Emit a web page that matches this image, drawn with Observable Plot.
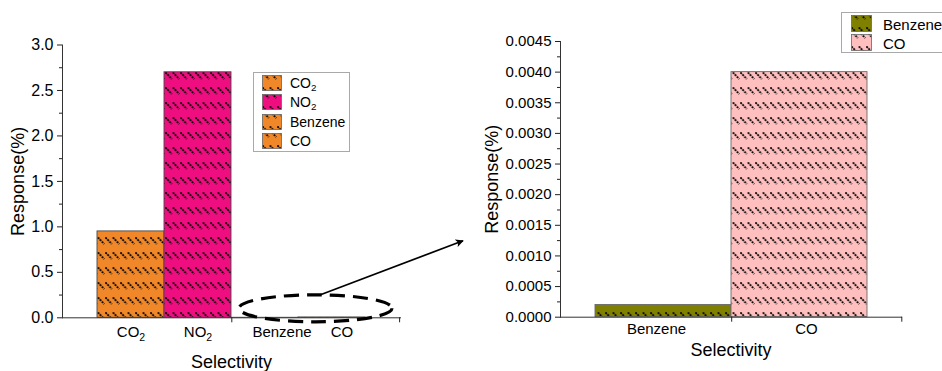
<!DOCTYPE html>
<html><head><meta charset="utf-8">
<script src="https://cdn.jsdelivr.net/npm/d3@7"></script>
<script src="https://cdn.jsdelivr.net/npm/@observablehq/plot@0.6"></script>
<style>
body{margin:0;background:#fff;font-family:"Liberation Sans",Arial,Helvetica,sans-serif;}
#wrap{position:relative;width:942px;height:371px;overflow:hidden;background:#fff;}
.panel{position:absolute;top:0;}
.legend{position:absolute;border:1px solid #a9a9a9;background:#fff;box-sizing:border-box;}
.legend .row{position:absolute;left:0;right:0;}
.legend .sw{position:absolute;}
.legend .lab{position:absolute;white-space:nowrap;color:#000;}
.legend sub{font-size:0.7em;vertical-align:-0.3em;line-height:0;}
#overlay{position:absolute;left:0;top:0;pointer-events:none;}
</style></head><body>
<div id="wrap"></div>
<script>
// ---------- data ----------
const leftCategories = ["CO2", "NO2", "Benzene", "CO"];
const leftValues = [0.95, 2.7, 0.0002, 0.004];
const leftColors = ["#F0882A", "#EE0E80", "#F0882A", "#F0882A"];
const leftTicks = [0, 0.5, 1.0, 1.5, 2.0, 2.5, 3.0];
const leftLegend = ["CO2", "NO2", "Benzene", "CO"];
const leftLegendColors = ["#F0882A", "#EE0E80", "#F0882A", "#F0882A"];

const rightCategories = ["Benzene", "CO"];
const rightValues = [0.0002, 0.004];
const rightColors = ["#7F7F00", "#FFBFBF"];
const rightTicks = [0, 0.0005, 0.0010, 0.0015, 0.0020, 0.0025, 0.0030, 0.0035, 0.0040, 0.0045];

const xTitle = "Selectivity";
const yTitle = "Response(%)";

// ---------- setup ----------
const FONT = '"Liberation Sans", Arial, Helvetica, sans-serif';
const wrap = document.getElementById("wrap");
const patId = c => "pat-" + c.replace("#", "");

// hatch patterns (short dotted "\" strokes in rows)
(function () {
  const svg = d3.select("body").append("svg").attr("width", 0).attr("height", 0)
    .style("position", "absolute");
  const defs = svg.append("defs");
  const colors = Array.from(new Set([...leftColors, ...rightColors, ...leftLegendColors]));
  for (const c of colors) {
    const p = defs.append("pattern").attr("id", patId(c))
      .attr("patternUnits", "userSpaceOnUse").attr("width", 7.5).attr("height", 15)
      .attr("patternTransform", "translate(0,12)");
    p.append("rect").attr("width", 7.5).attr("height", 15).attr("fill", c);
    p.append("line").attr("x1", 0.4).attr("y1", 0.4).attr("x2", 6.8).attr("y2", 7.0)
      .attr("stroke", "#000").attr("stroke-width", 1.8).attr("stroke-dasharray", "1.9 1.0");
  }
})();

const minorOf = ticks => d3.pairs(ticks).map(([a, b]) => (a + b) / 2);

function subscripts(svg) {
  d3.select(svg).selectAll("text").each(function () {
    const t = this.textContent;
    const m = /^(CO|NO)2$/.exec(t);
    if (m && this.childElementCount === 0) {
      this.textContent = m[1];
      d3.select(this).append("tspan").attr("dy", "0.3em").attr("font-size", "0.7em").text("2");
    }
  });
}

// ---------- left panel ----------
const L = {width: 470, height: 371, ml: 62, mr: 70, mt: 44.5, mb: 53.7, po: 0.5};
const Lstep = (L.width - L.ml - L.mr) / (leftCategories.length + 2 * L.po);
const leftData = leftCategories.map((c, i) => ({cat: c, value: leftValues[i], fill: `url(#${patId(leftColors[i])})`}));

const left = Plot.plot({
  width: L.width, height: L.height,
  marginLeft: L.ml, marginRight: L.mr, marginTop: L.mt, marginBottom: L.mb,
  style: {fontFamily: FONT, color: "#222", background: "transparent"},
  x: {domain: leftCategories, paddingInner: 0, paddingOuter: L.po},
  y: {domain: [0, 3]},
  color: {type: "identity"},
  marks: [
    Plot.barY(leftData, {x: "cat", y: "value", fill: "fill", stroke: "#4a4a4a", strokeWidth: 0.9}),
    Plot.frame({anchor: "left", stroke: "#333"}),
    Plot.frame({anchor: "bottom", stroke: "#333"}),
    Plot.axisY({ticks: leftTicks, tickSize: 5, tickPadding: 4, tickFormat: d3.format(".1f"), fontSize: 16, fill: "#000", label: null}),
    Plot.axisY({ticks: minorOf(leftTicks), tickSize: 3, tickFormat: () => "", label: null}),
    Plot.axisX({ticks: ["CO2", "NO2"], tickSize: 0, tickPadding: 9, fontSize: 15, fill: "#000", label: null}),
    Plot.axisX({ticks: ["Benzene"], tickSize: 0, tickPadding: 9, dx: 17, fontSize: 15, fill: "#000", label: null}),
    Plot.axisX({ticks: ["CO"], tickSize: 0, tickPadding: 9, dx: 10, fontSize: 15, fill: "#000", label: null}),
    Plot.axisX({ticks: ["NO2"], tickSize: 5, dx: Lstep / 2, tickFormat: () => "", label: null}),
    Plot.axisX({ticks: ["CO"], tickSize: 5, dx: Lstep / 2 + L.po * Lstep, tickFormat: () => "", label: null}),
    Plot.text([xTitle], {frameAnchor: "bottom", textAnchor: "middle", lineAnchor: "middle", dy: 44.5, fontSize: 18, fill: "#000"}),
    Plot.text([yTitle], {frameAnchor: "left", textAnchor: "middle", lineAnchor: "middle", rotate: -90, dx: -44, fontSize: 18, fill: "#000"})
  ]
});
left.classList.add("panel");
left.style.left = "0px";
subscripts(left);
wrap.appendChild(left);

// ---------- right panel ----------
const R = {left: 470, width: 472, height: 371, ml: 90, mr: 41, mt: 41, mb: 54.3, po: 0.25};
const Rstep = (R.width - R.ml - R.mr) / (rightCategories.length + 2 * R.po);
const rightData = rightCategories.map((c, i) => ({cat: c, value: rightValues[i], fill: `url(#${patId(rightColors[i])})`}));

const right = Plot.plot({
  width: R.width, height: R.height,
  marginLeft: R.ml, marginRight: R.mr, marginTop: R.mt, marginBottom: R.mb,
  style: {fontFamily: FONT, color: "#222", background: "transparent"},
  x: {domain: rightCategories, paddingInner: 0, paddingOuter: R.po},
  y: {domain: [0, 0.0045]},
  color: {type: "identity"},
  marks: [
    Plot.barY(rightData, {x: "cat", y: "value", fill: "fill", stroke: "#6a6a6a", strokeWidth: 0.9}),
    Plot.frame({anchor: "left", stroke: "#333"}),
    Plot.frame({anchor: "bottom", stroke: "#333"}),
    Plot.axisY({ticks: rightTicks, tickSize: 5, tickPadding: 4, tickFormat: d3.format(".4f"), fontSize: 15, fill: "#000", label: null}),
    Plot.axisY({ticks: minorOf(rightTicks), tickSize: 3, tickFormat: () => "", label: null}),
    Plot.axisX({ticks: ["Benzene"], tickSize: 0, tickPadding: 6, dx: -7, fontSize: 15, fill: "#000", label: null}),
    Plot.axisX({ticks: ["CO"], tickSize: 0, tickPadding: 6, dx: 7, fontSize: 15, fill: "#000", label: null}),
    Plot.axisX({ticks: ["Benzene"], tickSize: 5, dx: Rstep / 2, tickFormat: () => "", label: null}),
    Plot.axisX({ticks: ["CO"], tickSize: 5, dx: Rstep / 2 + R.po * Rstep, tickFormat: () => "", label: null}),
    Plot.text([xTitle], {frameAnchor: "bottom", textAnchor: "middle", lineAnchor: "middle", dy: 33.5, fontSize: 18, fill: "#000"}),
    Plot.text([yTitle], {frameAnchor: "left", textAnchor: "middle", lineAnchor: "middle", rotate: -90, dx: -68, fontSize: 18, fill: "#000"})
  ]
});
right.classList.add("panel");
right.style.left = R.left + "px";
wrap.appendChild(right);

// ---------- legends ----------
function legend(items, colors, box) {
  const div = document.createElement("div");
  div.className = "legend";
  Object.assign(div.style, {left: box.x + "px", top: box.y + "px", width: box.w + "px", height: box.h + "px", fontSize: box.fs + "px"});
  items.forEach((name, i) => {
    const row = document.createElement("div");
    row.className = "row";
    row.style.top = (box.top0 + i * box.dy) + "px";
    row.style.height = box.sh + "px";
    const sw = document.createElementNS("http://www.w3.org/2000/svg", "svg");
    sw.setAttribute("class", "sw");
    sw.setAttribute("width", box.sw); sw.setAttribute("height", box.sh);
    sw.style.left = box.sx + "px"; sw.style.top = "0px";
    const r = document.createElementNS("http://www.w3.org/2000/svg", "rect");
    r.setAttribute("x", 0.5); r.setAttribute("y", 0.5);
    r.setAttribute("width", box.sw - 1); r.setAttribute("height", box.sh - 1);
    r.setAttribute("fill", `url(#${patId(colors[i])})`);
    r.setAttribute("stroke", "#666"); r.setAttribute("stroke-width", 0.8);
    sw.appendChild(r);
    row.appendChild(sw);
    const lab = document.createElement("div");
    lab.className = "lab";
    lab.style.left = box.tx + "px";
    lab.style.top = "50%";
    lab.style.transform = "translateY(-50%)";
    lab.innerHTML = name.replace(/^(CO|NO)2$/, "$1<sub>2</sub>");
    row.appendChild(lab);
    div.appendChild(row);
  });
  wrap.appendChild(div);
}
legend(leftLegend, leftLegendColors, {x: 253, y: 72, w: 97, h: 80, fs: 14, top0: 2, dy: 19.4, sw: 20, sh: 16, sx: 8, tx: 36});
legend(rightCategories, rightColors, {x: 841, y: 12, w: 130, h: 41, fs: 15, top0: 2, dy: 19, sw: 21, sh: 17, sx: 9, tx: 41});

// ---------- annotation: dashed ellipse + arrow ----------
const lx = left.scale("x"), ly = left.scale("y");
const ry_ = right.scale("y"), rx_ = right.scale("x");
const x0 = lx.apply("Benzene"), x1 = lx.range[1];
const ell = {cx: (x0 + x1) / 2, cy: ly.apply(0) - 9, rx: (x1 - x0) / 2 - 8, ry: 13.5};
const ov = d3.select(wrap).append("svg").attr("id", "overlay").attr("width", 942).attr("height", 371);
ov.append("defs").append("marker").attr("id", "arrowhead")
  .attr("viewBox", "0 0 10 10").attr("refX", 9).attr("refY", 5)
  .attr("markerWidth", 8).attr("markerHeight", 8).attr("markerUnits", "userSpaceOnUse")
  .attr("orient", "auto")
  .append("path").attr("d", "M0,0L10,5L0,10L2.5,5Z").attr("fill", "#000");
ov.append("ellipse").attr("cx", ell.cx).attr("cy", ell.cy).attr("rx", ell.rx).attr("ry", ell.ry)
  .attr("fill", "none").attr("stroke", "#000").attr("stroke-width", 3.2).attr("stroke-dasharray", "15 8");
ov.append("line")
  .attr("x1", ell.cx + 5).attr("y1", ell.cy - ell.ry)
  .attr("x2", R.left + rx_.range[0] - 97).attr("y2", ry_.apply(0.00124))
  .attr("stroke", "#000").attr("stroke-width", 1.7).attr("marker-end", "url(#arrowhead)");
</script>
</body></html>
